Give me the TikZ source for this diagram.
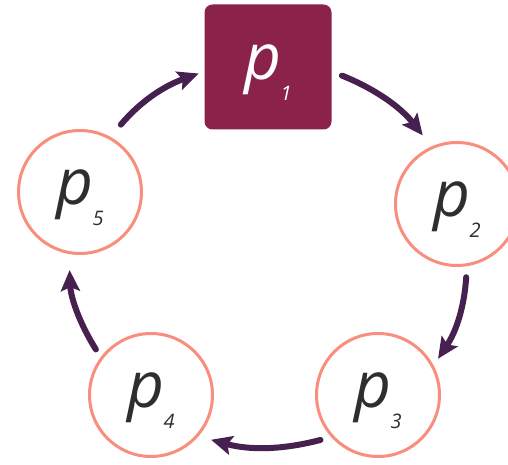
\documentclass[tikz,border=0pt]{standalone}
\usepackage{fontspec}
\setmainfont{Open Sans}
\usetikzlibrary{arrows.meta}
\definecolor{boxfill}{HTML}{8A2249}
\definecolor{ringcol}{HTML}{F98D7E}
\definecolor{arrcol}{HTML}{46204F}
\definecolor{txtcol}{HTML}{2E2E2E}
\newcommand{\plabel}[1]{\smash{\raisebox{-13pt}{\itshape\fontsize{64}{64}\selectfont p\kern-0.5pt\raisebox{-21pt}{\fontsize{20}{20}\selectfont #1}}}}
\begin{document}
\begin{tikzpicture}[x=1pt,y=1pt,
  ringnode/.style={circle,draw=ringcol,line width=3pt,fill=white,minimum size=123pt,inner sep=0pt,text=txtcol},
  pbox/.style={rectangle,rounded corners=8pt,fill=boxfill,minimum width=127pt,minimum height=125pt,inner sep=0pt,text=white},
  arr/.style={draw=arrcol,line width=6pt,line cap=round,-{Stealth[length=21pt,width=19pt,inset=4pt]}}]
\useasboundingbox (0,0) rectangle (508,465);
\node[pbox] (p1) at (268,398) {\plabel{1}};
\node[ringnode] (p2) at (457,261) {\plabel{2}};
\node[ringnode] (p3) at (378,70) {\plabel{3}};
\node[ringnode] (p4) at (151,70) {\plabel{4}};
\node[ringnode] (p5) at (80,273) {\plabel{5}};
\draw[arr,shorten <=16pt,shorten >=6pt] (p5.61) to[bend left=15] (p1.184);
\draw[arr,shorten <=11pt,shorten >=14pt] (p1.-4) to[bend left=15] (p2.114);
\draw[arr,shorten <=11pt,shorten >=8pt] (p2.-81) to[bend left=15] (p3.28);
\draw[arr,shorten <=11pt,shorten >=13pt] (p3.222) to[bend left=15] (p4.-41);
\draw[arr,shorten <=9pt,shorten >=16pt] (p4.143) to[bend left=15] (p5.260);
\end{tikzpicture}
\end{document}
